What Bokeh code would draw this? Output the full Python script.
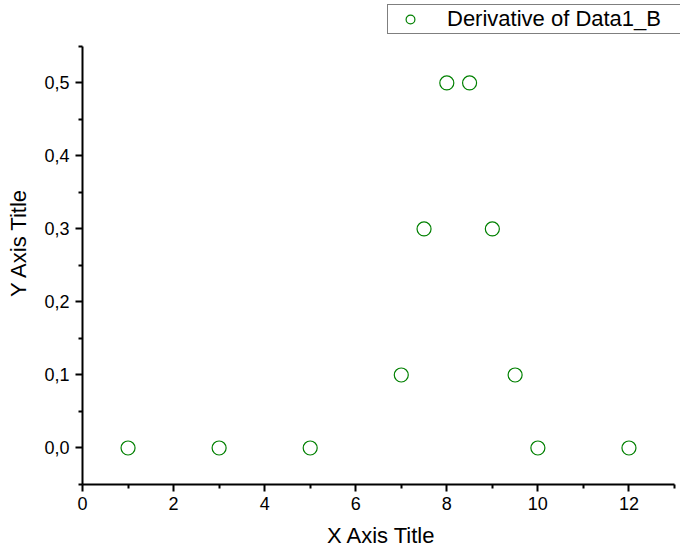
from bokeh.plotting import figure
from bokeh.models import FixedTicker, CustomJSTickFormatter, Range1d, Legend, LegendItem
from bokeh.embed import file_html
from bokeh.resources import INLINE

x_vals = [1, 3, 5, 7, 7.5, 8, 8.5, 9, 9.5, 10, 12]
y_vals = [0.0, 0.0, 0.0, 0.1, 0.3, 0.5, 0.5, 0.3, 0.1, 0.0, 0.0]
x_major = [0, 2, 4, 6, 8, 10, 12]
x_minor = [1, 3, 5, 7, 9, 11, 13]
y_major = [0.0, 0.1, 0.2, 0.3, 0.4, 0.5]
y_minor = [-0.05, 0.05, 0.15, 0.25, 0.35, 0.45, 0.55]
series_name = "Derivative of Data1_B"
x_axis_span = (0, 13)
y_axis_span = (-0.05, 0.55)

FONT = "Liberation Sans"

# Frame fills to top and right edge of canvas so the legend is not clipped;
# the axes themselves are bounded to the reference's axis spans.
W, H = 680, 550
left, bottom = 82, 65
axis_right_px, axis_top_px = 674, 46
frame_w = W - left
frame_h = H - bottom
x_scale = (axis_right_px - left) / (x_axis_span[1] - x_axis_span[0])
y_scale = ((H - bottom) - axis_top_px) / (y_axis_span[1] - y_axis_span[0])
x_end = x_axis_span[0] + frame_w / x_scale
y_end = y_axis_span[0] + frame_h / y_scale

p = figure(width=W, height=H, output_backend="svg", toolbar_location=None,
           x_range=Range1d(x_axis_span[0], x_end), y_range=Range1d(y_axis_span[0], y_end),
           min_border_left=left, min_border_right=0, min_border_top=0, min_border_bottom=bottom)
p.outline_line_color = None
p.grid.visible = False
p.background_fill_color = "white"

r = p.scatter(x_vals, y_vals, size=14, marker="circle", fill_color=None,
              line_color="#008000", line_width=1.2)

p.xaxis.ticker = FixedTicker(ticks=x_major, minor_ticks=x_minor)
p.yaxis.ticker = FixedTicker(ticks=y_major, minor_ticks=y_minor)
p.yaxis.formatter = CustomJSTickFormatter(code="return tick.toFixed(1).replace('.', ',');")
p.xaxis.bounds = x_axis_span
p.yaxis.bounds = y_axis_span

for ax in (p.xaxis[0], p.yaxis[0]):
    ax.axis_line_width = 2
    ax.axis_line_color = "black"
    ax.major_tick_line_width = 2
    ax.minor_tick_line_width = 2
    ax.major_tick_in = 0
    ax.major_tick_out = 7
    ax.minor_tick_in = 0
    ax.minor_tick_out = 4
    ax.major_label_text_font = FONT
    ax.major_label_text_font_size = "18px"
    ax.major_label_text_color = "black"
    ax.axis_label_text_font = FONT
    ax.axis_label_text_font_size = "22px"
    ax.axis_label_text_font_style = "normal"
    ax.axis_label_text_color = "black"

p.xaxis.axis_label = "X Axis Title"
p.yaxis.axis_label = "Y Axis Title"
p.xaxis.major_label_standoff = 5
p.yaxis.major_label_standoff = 6
p.xaxis.axis_label_standoff = 10
p.yaxis.axis_label_standoff = 10

legend = Legend(items=[LegendItem(label=series_name, renderers=[r])],
                location=(305, 450), orientation="vertical")
legend.label_text_font = FONT
legend.label_text_font_size = "22px"
legend.label_text_color = "black"
legend.border_line_color = "black"
legend.border_line_width = 1
legend.background_fill_alpha = 1
legend.glyph_width = 42
legend.glyph_height = 22
legend.padding = 1
legend.margin = 0
legend.label_standoff = 16
legend.spacing = 0
legend.label_height = 22
legend.label_width = 240
p.add_layout(legend, "center")

open("out.html", "w").write(file_html(p, INLINE))
